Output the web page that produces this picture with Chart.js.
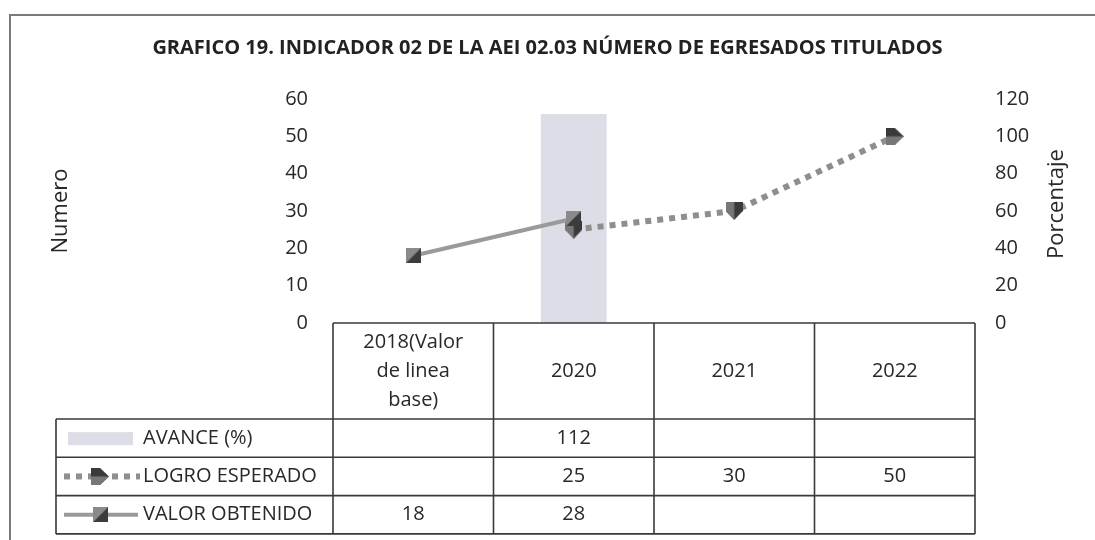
<!DOCTYPE html>
<html>
<head>
<meta charset="utf-8">
<script src="https://cdn.jsdelivr.net/npm/chart.js@4.4.1/dist/chart.umd.min.js"></script>
<style>
  body { margin: 0; background: #fff; }
  #wrap { position: relative; width: 1095px; height: 540px; }
  #frame { position: absolute; left: 9px; top: 14px; right: 0; bottom: 0;
           border-top: 2px solid #7a7a7a; border-left: 2px solid #7a7a7a; }
  canvas { position: absolute; left: 0; top: 0; }
</style>
</head>
<body>
<div id="wrap">
  <div id="frame"></div>
  <canvas id="grafico" width="1095" height="540"></canvas>
</div>
<script>
// datos del grafico
const categorias = [['2018(Valor', 'de linea', 'base)'], ['2020'], ['2021'], ['2022']];
const avance = [null, 112, null, null];
const logroEsperado = [null, 25, 30, 50];
const valorObtenido = [18, 28, null, null];
const ticksNumero = [0, 10, 20, 30, 40, 50, 60];
const ticksPorcentaje = [0, 20, 40, 60, 80, 100, 120];

const FONT = "'Open Sans', 'Noto Sans', sans-serif";
const TEXTO = '#282828';

// marcadores tipo Excel
function marcadorCuadro() {
    const c = document.createElement('canvas');
    c.width = 15; c.height = 15;
    const g = c.getContext('2d');
    g.fillStyle = '#3c3c3c';
    g.fillRect(0, 0, 15, 15);
    g.fillStyle = '#8a8a8a';
    g.beginPath(); g.moveTo(0, 0); g.lineTo(15, 0); g.lineTo(0, 15); g.closePath(); g.fill();
    return c;
}
function marcadorFlecha() {
    const c = document.createElement('canvas');
    c.width = 17; c.height = 18;
    const g = c.getContext('2d');
    g.fillStyle = '#3a3a3a';
    g.beginPath();
    g.moveTo(0, 0); g.lineTo(17, 0); g.lineTo(17, 9); g.lineTo(8.5, 18); g.lineTo(0, 9);
    g.closePath(); g.fill();
    g.fillStyle = '#777777';
    g.beginPath();
    g.moveTo(0, 0); g.lineTo(8.5, 0); g.lineTo(8.5, 18); g.lineTo(0, 9);
    g.closePath(); g.fill();
    return c;
}
const imgCuadro = marcadorCuadro();
const imgFlecha = marcadorFlecha();

// tabla de datos debajo del grafico
const tablaDatos = {
    id: 'tablaDatos',
    afterDraw(chart) {
        const ctx = chart.ctx;
        const area = chart.chartArea;
        const x = chart.scales.x;
        const w = (area.right - area.left) / categorias.length;
        const top = area.bottom;
        const headBottom = top + 96;
        const rowH = 38.3;
        const bottom = headBottom + rowH * 3;
        const legLeft = 56;

        ctx.save();
        ctx.strokeStyle = '#3a3a3a';
        ctx.lineWidth = 1.6;
        ctx.beginPath();
        ctx.moveTo(area.left, top); ctx.lineTo(area.right, top);
        for (let r = 0; r <= 3; r++) {
            const yy = headBottom + r * rowH;
            ctx.moveTo(legLeft, yy); ctx.lineTo(area.right, yy);
        }
        for (let i = 0; i <= categorias.length; i++) {
            const xx = area.left + i * w;
            ctx.moveTo(xx, top); ctx.lineTo(xx, bottom);
        }
        ctx.moveTo(legLeft, headBottom); ctx.lineTo(legLeft, bottom);
        ctx.stroke();

        ctx.fillStyle = TEXTO;
        ctx.font = '20px ' + FONT;
        ctx.textAlign = 'center';
        ctx.textBaseline = 'middle';
        const midHead = (top + headBottom) / 2;
        categorias.forEach((lines, i) => {
            const cx = x.getPixelForValue(i);
            lines.forEach((t, k) => {
                ctx.fillText(t, cx, midHead + (k - (lines.length - 1) / 2) * 29);
            });
        });

        const filas = chart.data.datasets;
        filas.forEach((ds, r) => {
            const cy = headBottom + rowH * (r + 0.5);
            ctx.fillStyle = TEXTO;
            ctx.textAlign = 'center';
            ds.data.forEach((v, i) => {
                if (v !== null) ctx.fillText(String(v), x.getPixelForValue(i), cy);
            });
            ctx.textAlign = 'left';
            ctx.fillText(ds.label, 143, cy);
            // simbolo de leyenda
            if (r === 0) {
                ctx.fillStyle = ds.backgroundColor;
                ctx.fillRect(68, cy - 6, 65, 13);
            } else if (r === 1) {
                ctx.strokeStyle = ds.borderColor;
                ctx.lineWidth = 6;
                ctx.setLineDash([6, 6]);
                ctx.beginPath(); ctx.moveTo(64, cy); ctx.lineTo(140, cy); ctx.stroke();
                ctx.setLineDash([]);
                ctx.save();
                ctx.translate(100, cy);
                ctx.rotate(-Math.PI / 2);
                ctx.drawImage(imgFlecha, -8.5, -9);
                ctx.restore();
            } else {
                ctx.strokeStyle = ds.borderColor;
                ctx.lineWidth = 4;
                ctx.beginPath(); ctx.moveTo(64, cy); ctx.lineTo(138, cy); ctx.stroke();
                ctx.drawImage(imgCuadro, 93, cy - 7.5);
            }
        });

        // titulo del eje derecho, leido de abajo hacia arriba
        ctx.fillStyle = TEXTO;
        ctx.font = '22px ' + FONT;
        ctx.textAlign = 'center';
        ctx.translate(1057, 204);
        ctx.rotate(-Math.PI / 2);
        ctx.fillText('Porcentaje', 0, 0);
        ctx.restore();
    }
};

const data = {
    labels: categorias,
    datasets: [
        {
            type: 'bar',
            label: 'AVANCE (%)',
            data: avance,
            yAxisID: 'y1',
            backgroundColor: '#dcdde6',
            barPercentage: 0.41,
            categoryPercentage: 1,
            order: 3
        },
        {
            type: 'line',
            label: 'LOGRO ESPERADO',
            data: logroEsperado,
            yAxisID: 'y',
            borderColor: '#8e8e8e',
            borderWidth: 6,
            borderDash: [6, 6],
            borderCapStyle: 'butt',
            pointStyle: imgFlecha,
            pointRotation: (c) => c.dataIndex === 3 ? -90 : 0,
            order: 2
        },
        {
            type: 'line',
            label: 'VALOR OBTENIDO',
            data: valorObtenido,
            yAxisID: 'y',
            borderColor: '#9a9a9a',
            borderWidth: 4,
            pointStyle: imgCuadro,
            order: 1
        }
    ]
};

const config = {
    type: 'bar',
    data: data,
    options: {
        responsive: false,
        animation: false,
        devicePixelRatio: 1,
        layout: { padding: { left: 0, right: 0, top: 0, bottom: 217 } },
        plugins: {
            legend: { display: false },
            tooltip: { enabled: false },
            title: {
                display: true,
                text: 'GRAFICO 19. INDICADOR 02 DE LA AEI 02.03 NÚMERO DE EGRESADOS TITULADOS',
                color: '#222222',
                font: { family: FONT, size: 20, weight: 'bold' },
                padding: { top: 36, bottom: 39 }
            }
        },
        scales: {
            x: { display: false },
            y: {
                position: 'left',
                min: 0, max: 60,
                afterBuildTicks: (s) => { s.ticks = ticksNumero.map(v => ({ value: v })); },
                afterFit: (s) => { s.width = 333; },
                grid: { display: false, drawTicks: false },
                border: { display: false },
                ticks: { padding: 25, color: TEXTO, font: { family: FONT, size: 20 } },
                title: { display: true, text: 'Numero', color: TEXTO, font: { family: FONT, size: 22 }, padding: { top: 48 } }
            },
            y1: {
                position: 'right',
                min: 0, max: 120,
                afterBuildTicks: (s) => { s.ticks = ticksPorcentaje.map(v => ({ value: v })); },
                afterFit: (s) => { s.width = 120; },
                grid: { display: false, drawTicks: false },
                border: { display: false },
                ticks: { padding: 20, color: TEXTO, font: { family: FONT, size: 20 } }
            }
        }
    },
    plugins: [tablaDatos]
};

const ctx = document.getElementById('grafico').getContext('2d');
new Chart(ctx, config);
</script>
</body>
</html>
